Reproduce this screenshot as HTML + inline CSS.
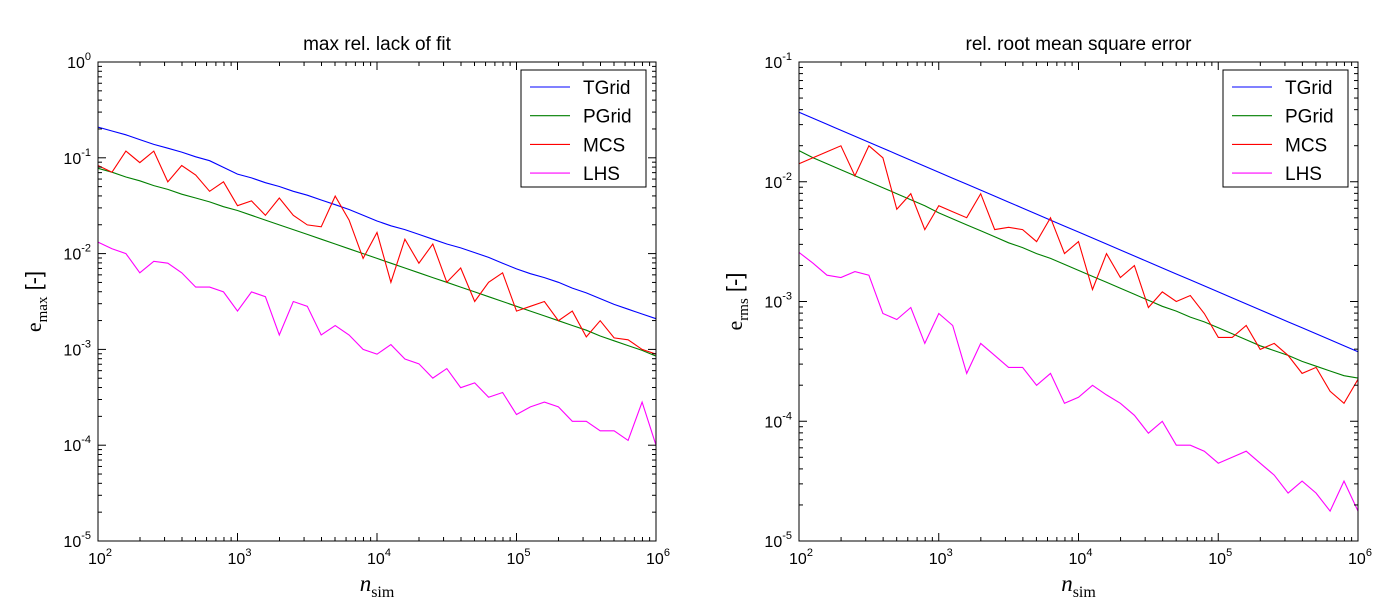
<!DOCTYPE html>
<html><head><meta charset="utf-8">
<style>
body{margin:0;background:#fff;}
svg text{font-family:"Liberation Sans",sans-serif;fill:#000;}
.serif{font-family:"Liberation Serif",serif;}
</style></head>
<body>
<svg id="chart" width="1400" height="600" viewBox="0 0 1400 600" xmlns="http://www.w3.org/2000/svg"></svg>
<script>
// x positions as log10(n_sim): 2.0 .. 6.0 step 0.1 (index-based)
const xStart = 2, xStep = 0.1;
// Left panel: max rel. lack of fit (log10 values)
const tgridLeft = [-0.68,-0.72,-0.76,-0.81,-0.86,-0.90,-0.94,-0.99,-1.03,-1.10,-1.17,-1.21,-1.26,-1.30,-1.35,-1.39,-1.44,-1.49,-1.54,-1.60,-1.66,-1.71,-1.75,-1.80,-1.85,-1.90,-1.94,-1.99,-2.04,-2.10,-2.16,-2.21,-2.25,-2.30,-2.36,-2.41,-2.47,-2.53,-2.58,-2.63,-2.68];
const pgridLeft = [-1.11,-1.15,-1.20,-1.24,-1.29,-1.33,-1.38,-1.42,-1.46,-1.51,-1.55,-1.60,-1.65,-1.70,-1.75,-1.80,-1.85,-1.90,-1.95,-2.00,-2.05,-2.10,-2.15,-2.20,-2.25,-2.30,-2.35,-2.40,-2.45,-2.50,-2.55,-2.60,-2.65,-2.70,-2.75,-2.80,-2.86,-2.91,-2.96,-3.01,-3.07];
const mcsLeft = [-1.08,-1.15,-0.93,-1.05,-0.93,-1.25,-1.08,-1.18,-1.35,-1.25,-1.50,-1.45,-1.60,-1.42,-1.60,-1.70,-1.72,-1.40,-1.65,-2.05,-1.78,-2.30,-1.85,-2.10,-1.90,-2.30,-2.15,-2.50,-2.30,-2.20,-2.60,-2.55,-2.50,-2.70,-2.60,-2.87,-2.70,-2.88,-2.90,-3.00,-3.05];
const lhsLeft = [-1.88,-1.95,-2.00,-2.20,-2.08,-2.10,-2.20,-2.35,-2.35,-2.40,-2.60,-2.40,-2.45,-2.85,-2.50,-2.55,-2.85,-2.75,-2.85,-3.00,-3.05,-2.95,-3.10,-3.15,-3.30,-3.20,-3.40,-3.35,-3.50,-3.45,-3.68,-3.60,-3.55,-3.60,-3.75,-3.75,-3.85,-3.85,-3.95,-3.55,-4.00];
// Right panel: rel. root mean square error (log10 values)
const tgridRight = [-1.42,-1.47,-1.52,-1.57,-1.62,-1.67,-1.72,-1.77,-1.82,-1.87,-1.92,-1.97,-2.02,-2.07,-2.12,-2.17,-2.22,-2.27,-2.32,-2.37,-2.42,-2.47,-2.52,-2.57,-2.62,-2.67,-2.72,-2.77,-2.82,-2.87,-2.92,-2.97,-3.02,-3.07,-3.12,-3.17,-3.22,-3.27,-3.32,-3.37,-3.42];
const pgridRight = [-1.74,-1.80,-1.85,-1.90,-1.95,-2.00,-2.05,-2.10,-2.15,-2.20,-2.26,-2.31,-2.36,-2.41,-2.46,-2.51,-2.55,-2.60,-2.64,-2.69,-2.74,-2.79,-2.84,-2.89,-2.94,-2.99,-3.04,-3.08,-3.13,-3.17,-3.22,-3.27,-3.32,-3.37,-3.41,-3.45,-3.50,-3.54,-3.58,-3.62,-3.64];
const mcsRight = [-1.85,-1.80,-1.75,-1.70,-1.95,-1.70,-1.80,-2.23,-2.10,-2.40,-2.20,-2.25,-2.30,-2.10,-2.40,-2.38,-2.40,-2.50,-2.30,-2.60,-2.50,-2.90,-2.60,-2.80,-2.70,-3.05,-2.92,-3.00,-2.95,-3.10,-3.30,-3.30,-3.20,-3.40,-3.35,-3.45,-3.60,-3.55,-3.75,-3.85,-3.65];
const lhsRight = [-2.59,-2.68,-2.78,-2.80,-2.75,-2.78,-3.10,-3.15,-3.05,-3.35,-3.10,-3.20,-3.60,-3.35,-3.45,-3.55,-3.55,-3.70,-3.60,-3.85,-3.80,-3.70,-3.78,-3.85,-3.95,-4.10,-4.00,-4.20,-4.20,-4.25,-4.35,-4.30,-4.25,-4.35,-4.45,-4.60,-4.50,-4.60,-4.75,-4.50,-4.75];
const xTicks = [2,3,4,5,6];
const yTicksLeft = [0,-1,-2,-3,-4,-5];
const yTicksRight = [-1,-2,-3,-4,-5];
const seriesNames = ["TGrid","PGrid","MCS","LHS"];
const colors = ["#0000ff","#007f00","#ff0000","#ff00ff"];

const NS = "http://www.w3.org/2000/svg";
const svg = document.getElementById("chart");
function mk(tag, attrs, parent){const e=document.createElementNS(NS,tag);for(const k in attrs)e.setAttribute(k,attrs[k]);(parent||svg).appendChild(e);return e;}

function panel(cfg){
  const g = mk("g",{});
  
  
  const {x0,x1,y0,y1,yMin,yMax} = cfg;
  const sx = v => x0 + (v-2)/(6-2)*(x1-x0);
  const sy = v => y0 + (yMax-v)/(yMax-yMin)*(y1-y0);
  cfg.series.forEach((arr,si)=>{
    const pts = arr.map((v,i)=>sx(xStart+i*xStep).toFixed(1)+","+sy(v).toFixed(1)).join(" ");
    const p = mk("polyline",{points:pts,fill:"none",stroke:colors[si],"stroke-width":1.1},g);
    
    
  });
  const fr = mk("rect",{x:x0,y:y0,width:x1-x0,height:y1-y0,fill:"none",stroke:"#000","stroke-width":1},g);
  
  
  for(let d=2; d<=6; d++){
    const X=sx(d);
    mk("line",{x1:X,y1:y1,x2:X,y2:y1-8,stroke:"#000"},g);
    mk("line",{x1:X,y1:y0,x2:X,y2:y0+8,stroke:"#000"},g);
    if(d<6) for(let m=2;m<10;m++){const Xm=sx(d+Math.log10(m));
      mk("line",{x1:Xm,y1:y1,x2:Xm,y2:y1-4,stroke:"#000"},g);
      mk("line",{x1:Xm,y1:y0,x2:Xm,y2:y0+4,stroke:"#000"},g);}
  }
  xTicks.forEach(d=>{
    const t = mk("text",{x:sx(d)+2,y:y1+23,"font-size":16,"text-anchor":"middle"},g);
    
    
    t.innerHTML = '10<tspan dy="-8" font-size="11">'+d+'</tspan>';
  });
  for(let d=yMin; d<=yMax; d++){
    const Y=sy(d);
    mk("line",{x1:x0,y1:Y,x2:x0+8,y2:Y,stroke:"#000"},g);
    mk("line",{x1:x1,y1:Y,x2:x1-8,y2:Y,stroke:"#000"},g);
    if(d<yMax) for(let m=2;m<10;m++){const Ym=sy(d+Math.log10(m));
      mk("line",{x1:x0,y1:Ym,x2:x0+4,y2:Ym,stroke:"#000"},g);
      mk("line",{x1:x1,y1:Ym,x2:x1-4,y2:Ym,stroke:"#000"},g);}
  }
  cfg.yTicks.forEach(d=>{
    const t = mk("text",{x:x0-7,y:sy(d)+6,"font-size":16,"text-anchor":"end"},g);
    
    
    t.innerHTML = '10<tspan dy="-8" font-size="11">'+d+'</tspan>';
  });
  const ti = mk("text",{x:(x0+x1)/2,y:y0-12,"font-size":19,"text-anchor":"middle"},g);
  
  
  ti.textContent = cfg.title;
  const xl = mk("text",{x:(x0+x1)/2,y:y1+50,"font-size":23,"text-anchor":"middle",class:"serif"},g);
  
  
  xl.innerHTML = '<tspan font-style="italic">n</tspan><tspan dy="6" font-size="16">sim</tspan>';
  const yl = mk("text",{x:0,y:0,"font-size":22,"text-anchor":"middle",transform:"translate("+(x0-57)+","+((y0+y1)/2)+") rotate(-90)"},g);
  
  
  yl.innerHTML = '<tspan class="serif">e</tspan><tspan class="serif" dy="6" font-size="15">'+cfg.ysub+'</tspan><tspan dy="-6"> [-]</tspan>';
  const lg = mk("g",{},g);
  
  
  mk("rect",{x:x1-135,y:y0+8,width:125,height:117,fill:"#fff",stroke:"#000"},lg);
  seriesNames.forEach((n,i)=>{
    const e = mk("g",{},lg);
    
    
    const Y = y0+25+i*28.7;
    mk("line",{x1:x1-126,y1:Y,x2:x1-86,y2:Y,stroke:colors[i],"stroke-width":1.1},e);
    const t = mk("text",{x:x1-73,y:Y+7,"font-size":19},e);
    t.textContent = n;
  });
}
panel({name:"left-panel",x0:98,x1:656,y0:62,y1:541,yMin:-5,yMax:0,yTicks:yTicksLeft,title:"max rel. lack of fit",ysub:"max",series:[tgridLeft,pgridLeft,mcsLeft,lhsLeft]});
panel({name:"right-panel",x0:799,x1:1358,y0:62,y1:541,yMin:-5,yMax:-1,yTicks:yTicksRight,title:"rel. root mean square error",ysub:"rms",series:[tgridRight,pgridRight,mcsRight,lhsRight]});
</script>
</body></html>
